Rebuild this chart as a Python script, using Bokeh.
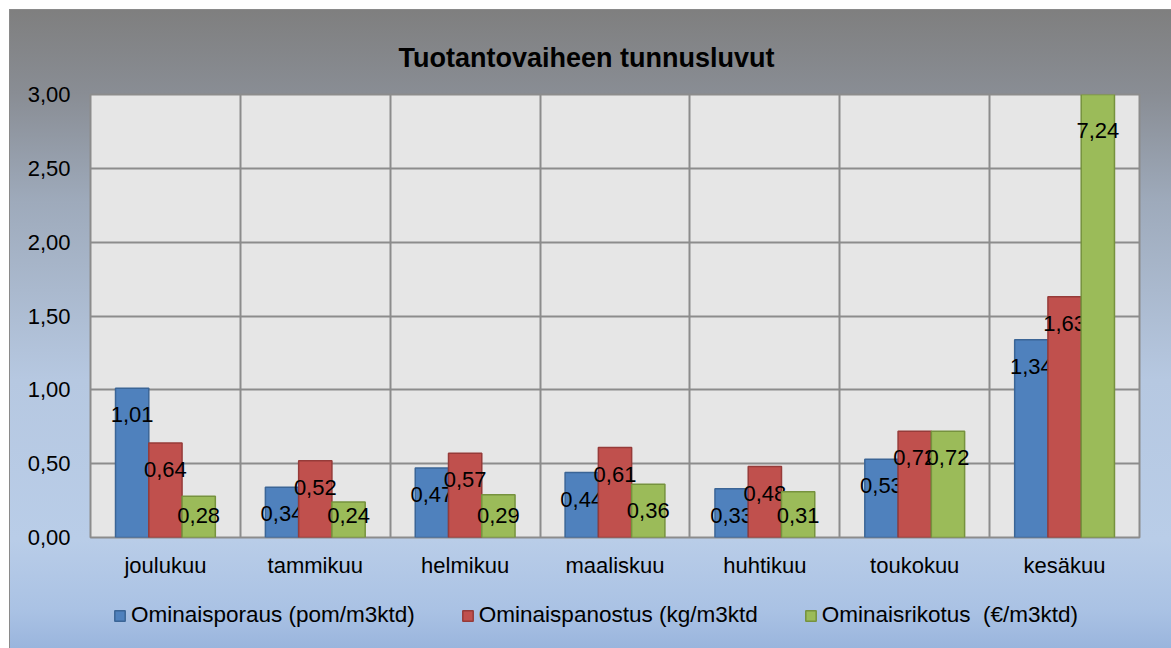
import numpy as np
from bokeh.plotting import figure
from bokeh.layouts import column
from bokeh.models import (ColumnDataSource, FixedTicker, CustomJSTickFormatter,
                          Legend, LegendItem, Range1d)
from bokeh.core.properties import value
from bokeh.embed import file_html
from bokeh.resources import INLINE

months = ["joulukuu", "tammikuu", "helmikuu", "maaliskuu", "huhtikuu", "toukokuu", "kesäkuu"]
porau = [1.01, 0.34, 0.47, 0.44, 0.33, 0.53, 1.34]
panostus = [0.64, 0.52, 0.57, 0.61, 0.48, 0.72, 1.63]
rikotus = [0.28, 0.24, 0.29, 0.36, 0.31, 0.72, 7.24]
series_names = ["Ominaisporaus (pom/m3ktd)", "Ominaispanostus (kg/m3ktd", "Ominaisrikotus  (€/m3ktd)"]
y_ticks = [0.0, 0.5, 1.0, 1.5, 2.0, 2.5, 3.0]

FONT = "Liberation Sans"
fills = ["#4f81bd", "#c0504d", "#9bbb59"]
lines = ["#3b6596", "#963b39", "#76923e"]
offsets = [-0.222, 0.0, 0.222]
bar_w = 0.222
YMAX = 3.0

p = figure(width=1161, height=570, output_backend="svg", toolbar_location=None,
           x_range=Range1d(0, len(months)), y_range=Range1d(0, YMAX),
           min_border_left=80, min_border_right=32, min_border_top=84, min_border_bottom=42)
p.border_fill_color = None
p.background_fill_color = "#e6e6e6"
p.outline_line_color = "#8c8c8c"
p.outline_line_width = 2

p.title.text = "Tuotantovaiheen tunnusluvut"
p.title.text_font = FONT
p.title.text_font_size = "27px"
p.title.text_font_style = "bold"
p.title.text_color = "#000000"
p.title.align = "left"
p.title.offset = 308
p.title.vertical_align = "top"
p.title.standoff = 40

# legend strip (separate figure so the legend is not clipped by the plot frame)
pl = figure(width=1161, height=68, output_backend="svg", toolbar_location=None,
            x_range=Range1d(-20, -19), y_range=Range1d(0, 1),
            min_border_left=0, min_border_right=0, min_border_top=0, min_border_bottom=0)
pl.border_fill_color = None
pl.background_fill_color = None
pl.outline_line_color = None
pl.axis.visible = False
pl.grid.visible = False

leg_renderers = []
for vals, fc, lc, off in zip([porau, panostus, rikotus], fills, lines, offsets):
    v = np.array(vals, dtype=float)
    x = np.arange(len(months)) + 0.5 + off
    top_vis = np.minimum(v, YMAX)
    ly = np.where(v > YMAX, YMAX - 0.243, np.maximum(top_vis - 0.18, 0.15))
    labels = [f"{val:.2f}".replace(".", ",") for val in v]
    src = ColumnDataSource(dict(x=x, top=v, ly=ly, lab=labels))
    p.vbar(x="x", top="top", width=bar_w, bottom=0, source=src,
           fill_color=fc, line_color=lc, line_width=1.5)
    p.text(x="x", y="ly", text="lab", source=src, text_align="center",
           text_baseline="middle", text_font=value(FONT), text_font_size="22px",
           text_color="#000000")
    # same series in the legend strip (hidden) to supply legend swatches
    leg_renderers.append(pl.vbar(x="x", top="top", width=bar_w, bottom=0, source=src,
                                 fill_color=fc, line_color=lc, line_width=1.5,
                                 visible=False))

# axes
p.yaxis.ticker = FixedTicker(ticks=y_ticks)
p.yaxis.formatter = CustomJSTickFormatter(code="return tick.toFixed(2).replace('.', ',');")
p.xaxis.ticker = FixedTicker(ticks=[i + 0.5 for i in range(len(months))])
p.xaxis.major_label_overrides = {i + 0.5: m for i, m in enumerate(months)}
for ax in (p.xaxis, p.yaxis):
    ax.axis_line_color = None
    ax.major_tick_line_color = None
    ax.minor_tick_line_color = None
    ax.major_label_text_font = FONT
    ax.major_label_text_font_size = "22px"
    ax.major_label_text_color = "#000000"
p.yaxis.major_label_standoff = 14
p.xaxis.major_label_standoff = 9

p.ygrid.ticker = FixedTicker(ticks=y_ticks)
p.xgrid.ticker = FixedTicker(ticks=list(range(1, len(months))))
for g in (p.xgrid, p.ygrid):
    g.grid_line_color = "#8c8c8c"
    g.grid_line_width = 2

legend = Legend(items=[LegendItem(label=n, renderers=[r]) for n, r in zip(series_names, leg_renderers)],
                orientation="horizontal", location=(23, 20))
legend.background_fill_alpha = 0
legend.border_line_color = None
legend.inactive_fill_alpha = 0
legend.padding = 0
legend.margin = 0
legend.spacing = 46
legend.glyph_width = 13
legend.glyph_height = 13
legend.label_standoff = 5
legend.label_text_font = FONT
legend.label_text_font_size = "22.5px"
legend.label_text_color = "#000000"
pl.add_layout(legend, "center")

layout = column(p, pl, spacing=0)
layout.styles = {"background": "linear-gradient(180deg, #7f7f7f 0%, #898d94 13%, #9eaabb 30%, "
                               "#b6c8e1 58%, #b9cde8 83%, #aac2e4 94%, #9ab5dd 100%)",
                 "border-left": "1px solid #8a8a8a", "border-top": "1px solid #8a8a8a",
                 "margin-left": "9px", "margin-top": "9px"}

open("out.html", "w").write(file_html(layout, INLINE))
